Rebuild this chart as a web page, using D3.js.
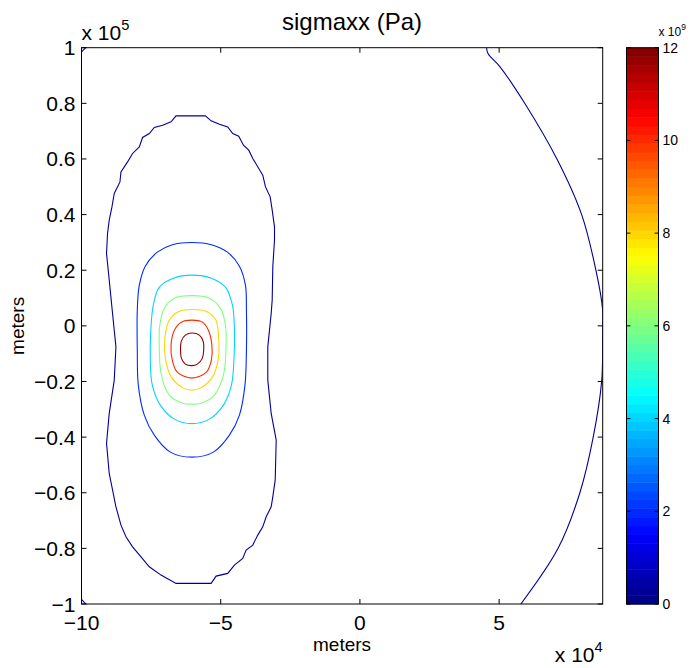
<!DOCTYPE html>
<html>
<head>
<meta charset="utf-8">
<script src="https://cdn.jsdelivr.net/npm/d3@7"></script>
<style>
  body { margin: 0; background: #fff; }
  text { font-family: "Liberation Sans", Arial, sans-serif; fill: #000; }
</style>
</head>
<body>
<script>
// contour levels (x 10^9 Pa), one per traced line
var levels = [0.3, 2, 4, 6, 8, 10, 11.8];
var colorTicks = [0, 2, 4, 6, 8, 10, 12];
var xTicks = [-10, -5, 0, 5];          // x 10^4 m
var yTicks = [-1, -0.8, -0.6, -0.4, -0.2, 0, 0.2, 0.4, 0.6, 0.8, 1];  // x 10^5 m

// traced contours, [x (1e4 m), y (1e5 m)]
var outerLoop = [[-6.604,0.7548],[-5.550,0.7548],[-5.345,0.7369],[-5.047,0.7250],[-4.748,0.7153],[-4.568,0.6916],[-4.353,0.6819],[-4.183,0.6495],[-3.993,0.6316],[-3.849,0.6017],[-3.633,0.5658],[-3.489,0.5417],[-3.392,0.4996],[-3.223,0.4637],[-3.151,0.4159],[-3.068,0.3559],[-3.068,0.3080],[-3.129,0.2121],[-3.151,0.0924],[-3.187,0.0446],[-3.309,-0.0755],[-3.309,-0.1952],[-3.187,-0.3149],[-3.007,-0.4109],[-3.043,-0.5546],[-3.129,-0.6147],[-3.187,-0.6506],[-3.367,-0.6866],[-3.489,-0.7225],[-3.669,-0.7523],[-3.849,-0.7883],[-4.086,-0.8063],[-4.209,-0.8361],[-4.507,-0.8602],[-4.748,-0.8900],[-5.165,-0.8997],[-5.345,-0.9260],[-6.604,-0.9260],[-7.144,-0.8961],[-7.565,-0.8663],[-7.863,-0.8303],[-8.165,-0.7944],[-8.403,-0.7584],[-8.583,-0.7164],[-8.763,-0.6506],[-8.860,-0.6024],[-9.004,-0.5306],[-9.101,-0.4227],[-9.004,-0.3149],[-8.824,-0.1952],[-8.763,-0.0755],[-8.885,0.0446],[-9.004,0.1643],[-9.101,0.2602],[-9.065,0.3321],[-9.004,0.3799],[-8.906,0.4277],[-8.824,0.4759],[-8.619,0.5176],[-8.583,0.5536],[-8.345,0.5895],[-8.165,0.6197],[-7.924,0.6434],[-7.806,0.6772],[-7.565,0.6916],[-7.385,0.7132],[-7.086,0.7214],[-6.784,0.7333]];
var rightArc = [[4.547,1.0],[4.604,0.9784],[5.025,0.9321],[5.924,0.7994],[7.076,0.5996],[7.964,0.3997],[8.478,0.1991],[8.719,0.0564],[8.719,-0.0334],[8.683,-0.1988],[8.381,-0.3993],[7.903,-0.5992],[7.122,-0.7991],[5.781,-1.0]];
var cornerTop = [[-10.0,0.985],[-9.845,1.0]];
var cornerBottom = [[-10.0,-0.983],[-9.845,-1.0]];
var blueLoop = [[-6.036,0.2998],[-5.335,0.2919],[-4.759,0.2649],[-4.327,0.2146],[-4.112,0.1463],[-4.076,0.0565],[-4.076,-0.0873],[-4.129,-0.2132],[-4.327,-0.3210],[-4.687,-0.3929],[-5.263,-0.4540],[-6.036,-0.4720],[-6.809,-0.4540],[-7.385,-0.3929],[-7.745,-0.3210],[-7.960,-0.2132],[-7.996,-0.0873],[-7.996,0.0565],[-7.924,0.1463],[-7.709,0.2146],[-7.277,0.2649],[-6.737,0.2919]];
var cyanLoop = [[-6.036,0.1822],[-5.335,0.1715],[-4.831,0.1391],[-4.579,0.0744],[-4.507,-0.0155],[-4.525,-0.1233],[-4.615,-0.2132],[-4.903,-0.2851],[-5.406,-0.3354],[-6.036,-0.3515],[-6.665,-0.3354],[-7.169,-0.2851],[-7.457,-0.2132],[-7.529,-0.1233],[-7.511,-0.0155],[-7.421,0.0744],[-7.205,0.1391],[-6.701,0.1715]];
var greenLoop = [[-6.036,0.1086],[-5.406,0.0996],[-5.011,0.0636],[-4.831,0.0025],[-4.813,-0.0873],[-4.903,-0.1772],[-5.227,-0.2491],[-5.694,-0.2779],[-6.036,-0.2815],[-6.378,-0.2779],[-6.845,-0.2491],[-7.133,-0.1772],[-7.205,-0.0873],[-7.187,0.0025],[-7.025,0.0636],[-6.665,0.0996]];
var orangeLoop = [[-6.036,0.0590],[-5.496,0.0510],[-5.173,0.0205],[-5.072,-0.0442],[-5.083,-0.1161],[-5.299,-0.1844],[-5.730,-0.2239],[-6.036,-0.2311],[-6.342,-0.2239],[-6.773,-0.1844],[-6.989,-0.1161],[-7.007,-0.0442],[-6.845,0.0205],[-6.522,0.0510]];
var redLoop = [[-6.036,0.0205],[-5.658,0.0133],[-5.442,-0.0155],[-5.317,-0.0694],[-5.335,-0.1233],[-5.514,-0.1664],[-6.036,-0.1880],[-6.558,-0.1664],[-6.738,-0.1233],[-6.784,-0.0694],[-6.665,-0.0155],[-6.414,0.0133]];
var darkRedLoop = [[-6.036,-0.0255],[-5.766,-0.0334],[-5.622,-0.0586],[-5.612,-0.0873],[-5.658,-0.1161],[-5.838,-0.1376],[-6.036,-0.1431],[-6.270,-0.1376],[-6.414,-0.1161],[-6.442,-0.0873],[-6.414,-0.0550],[-6.270,-0.0334]];

var contours = [
  {level: levels[0], pts: outerLoop, closed: true, smooth: false},
  {level: levels[0], pts: rightArc, closed: false, smooth: true},
  {level: levels[0], pts: cornerTop, closed: false, smooth: false},
  {level: levels[0], pts: cornerBottom, closed: false, smooth: false},
  {level: levels[1], pts: blueLoop, closed: true, smooth: true},
  {level: levels[2], pts: cyanLoop, closed: true, smooth: true},
  {level: levels[3], pts: greenLoop, closed: true, smooth: true},
  {level: levels[4], pts: orangeLoop, closed: true, smooth: true},
  {level: levels[5], pts: redLoop, closed: true, smooth: true},
  {level: levels[6], pts: darkRedLoop, closed: true, smooth: true}
];

var W = 693, H = 668;
var plot = {left: 81.5, right: 602.7, top: 47.7, bottom: 604};
var cbar = {left: 626.5, right: 658.5};

// MATLAB jet colormap
function jet(v) {
  function c(t) { return Math.max(0, Math.min(1, t)); }
  var r = c(1.5 - Math.abs(4 * v - 3)), g = c(1.5 - Math.abs(4 * v - 2)), b = c(1.5 - Math.abs(4 * v - 1));
  return d3.rgb(r * 255, g * 255, b * 255).toString();
}
var cmin = 0, cmax = 12;
function levelColor(l) { return jet((l - cmin) / (cmax - cmin)); }

var svg = d3.select("body").append("svg").attr("width", W).attr("height", H);

var x = d3.scaleLinear().domain([-10, 8.72]).range([plot.left, plot.right]);
var y = d3.scaleLinear().domain([-1, 1]).range([plot.bottom, plot.top]);

svg.append("clipPath").attr("id", "clip").append("rect")
    .attr("x", plot.left).attr("y", plot.top)
    .attr("width", plot.right - plot.left).attr("height", plot.bottom - plot.top);

// contour lines
var g = svg.append("g").attr("clip-path", "url(#clip)");
contours.forEach(function(c) {
  var curve = c.smooth ? (c.closed ? d3.curveCatmullRomClosed : d3.curveCatmullRom)
                       : (c.closed ? d3.curveLinearClosed : d3.curveLinear);
  var line = d3.line().x(function(d) { return x(d[0]); }).y(function(d) { return y(d[1]); }).curve(curve);
  g.append("path")
      .attr("d", line(c.pts))
      .attr("fill", "none")
      .attr("stroke", levelColor(c.level))
      .attr("stroke-width", 1.1);
});

// axes box + ticks
var tickLen = 5;
var ax = svg.append("g");
ax.append("rect")
    .attr("x", plot.left).attr("y", plot.top)
    .attr("width", plot.right - plot.left).attr("height", plot.bottom - plot.top)
    .attr("fill", "none").attr("stroke", "#000").attr("stroke-width", 1);

xTicks.forEach(function(t) {
  ax.append("line").attr("x1", x(t)).attr("x2", x(t)).attr("y1", plot.bottom).attr("y2", plot.bottom - tickLen).attr("stroke", "#000");
  ax.append("line").attr("x1", x(t)).attr("x2", x(t)).attr("y1", plot.top).attr("y2", plot.top + tickLen).attr("stroke", "#000");
  ax.append("text").attr("x", x(t)).attr("y", plot.bottom + 26)
      .attr("text-anchor", "middle").style("font-size", "21px")
      .text(t < 0 ? "\u2212" + Math.abs(t) : t);
});
yTicks.forEach(function(t) {
  ax.append("line").attr("x1", plot.left).attr("x2", plot.left + tickLen).attr("y1", y(t)).attr("y2", y(t)).attr("stroke", "#000");
  ax.append("line").attr("x1", plot.right).attr("x2", plot.right - tickLen).attr("y1", y(t)).attr("y2", y(t)).attr("stroke", "#000");
  ax.append("text").attr("x", plot.left - 6).attr("y", y(t) + 7.5)
      .attr("text-anchor", "end").style("font-size", "21px")
      .text(t < 0 ? "\u2212" + Math.abs(t) : t);
});

// exponent labels
function expLabel(px, py, exp, size, anchor) {
  var t = svg.append("text").attr("x", px).attr("y", py).style("font-size", size + "px").attr("text-anchor", anchor || "start");
  t.append("tspan").text("x 10");
  t.append("tspan").attr("dy", -size * 0.5).style("font-size", (size * 0.7) + "px").text(exp);
}
expLabel(plot.left, 40, "5", 21);
expLabel(plot.right, 662, "4", 21, "end");

// title and axis labels
svg.append("text").attr("x", 352).attr("y", 30)
    .attr("text-anchor", "middle").style("font-size", "24px").text("sigmaxx (Pa)");
svg.append("text").attr("x", (plot.left + plot.right) / 2).attr("y", 651)
    .attr("text-anchor", "middle").style("font-size", "19px").text("meters");
svg.append("text").attr("transform", "translate(24," + ((plot.top + plot.bottom) / 2) + ") rotate(-90)")
    .attr("text-anchor", "middle").style("font-size", "19px").text("meters");

// colorbar: 64 discrete jet bands
var nBands = 64;
var cy = d3.scaleLinear().domain([cmin, cmax]).range([plot.bottom, plot.top]);
var bands = d3.range(nBands);
var bandH = (plot.bottom - plot.top) / nBands;
svg.append("g").selectAll("rect").data(bands).enter().append("rect")
    .attr("x", cbar.left)
    .attr("y", function(i) { return cy(cmin + (i + 1) * (cmax - cmin) / nBands); })
    .attr("width", cbar.right - cbar.left)
    .attr("height", bandH + 0.5)
    .attr("fill", function(i) { return jet((i + 0.5) / nBands); });
svg.append("rect")
    .attr("x", cbar.left).attr("y", plot.top)
    .attr("width", cbar.right - cbar.left).attr("height", plot.bottom - plot.top)
    .attr("fill", "none").attr("stroke", "#000").attr("stroke-width", 1);
colorTicks.forEach(function(t) {
  svg.append("line").attr("x1", cbar.right).attr("x2", cbar.right - 4).attr("y1", cy(t)).attr("y2", cy(t)).attr("stroke", "#000");
  svg.append("line").attr("x1", cbar.left).attr("x2", cbar.left + 4).attr("y1", cy(t)).attr("y2", cy(t)).attr("stroke", "#000");
  svg.append("text").attr("x", cbar.right + 4).attr("y", cy(t) + 5)
      .style("font-size", "14px").text(t);
});
expLabel(cbar.right, 36, "9", 12);
</script>
</body>
</html>
